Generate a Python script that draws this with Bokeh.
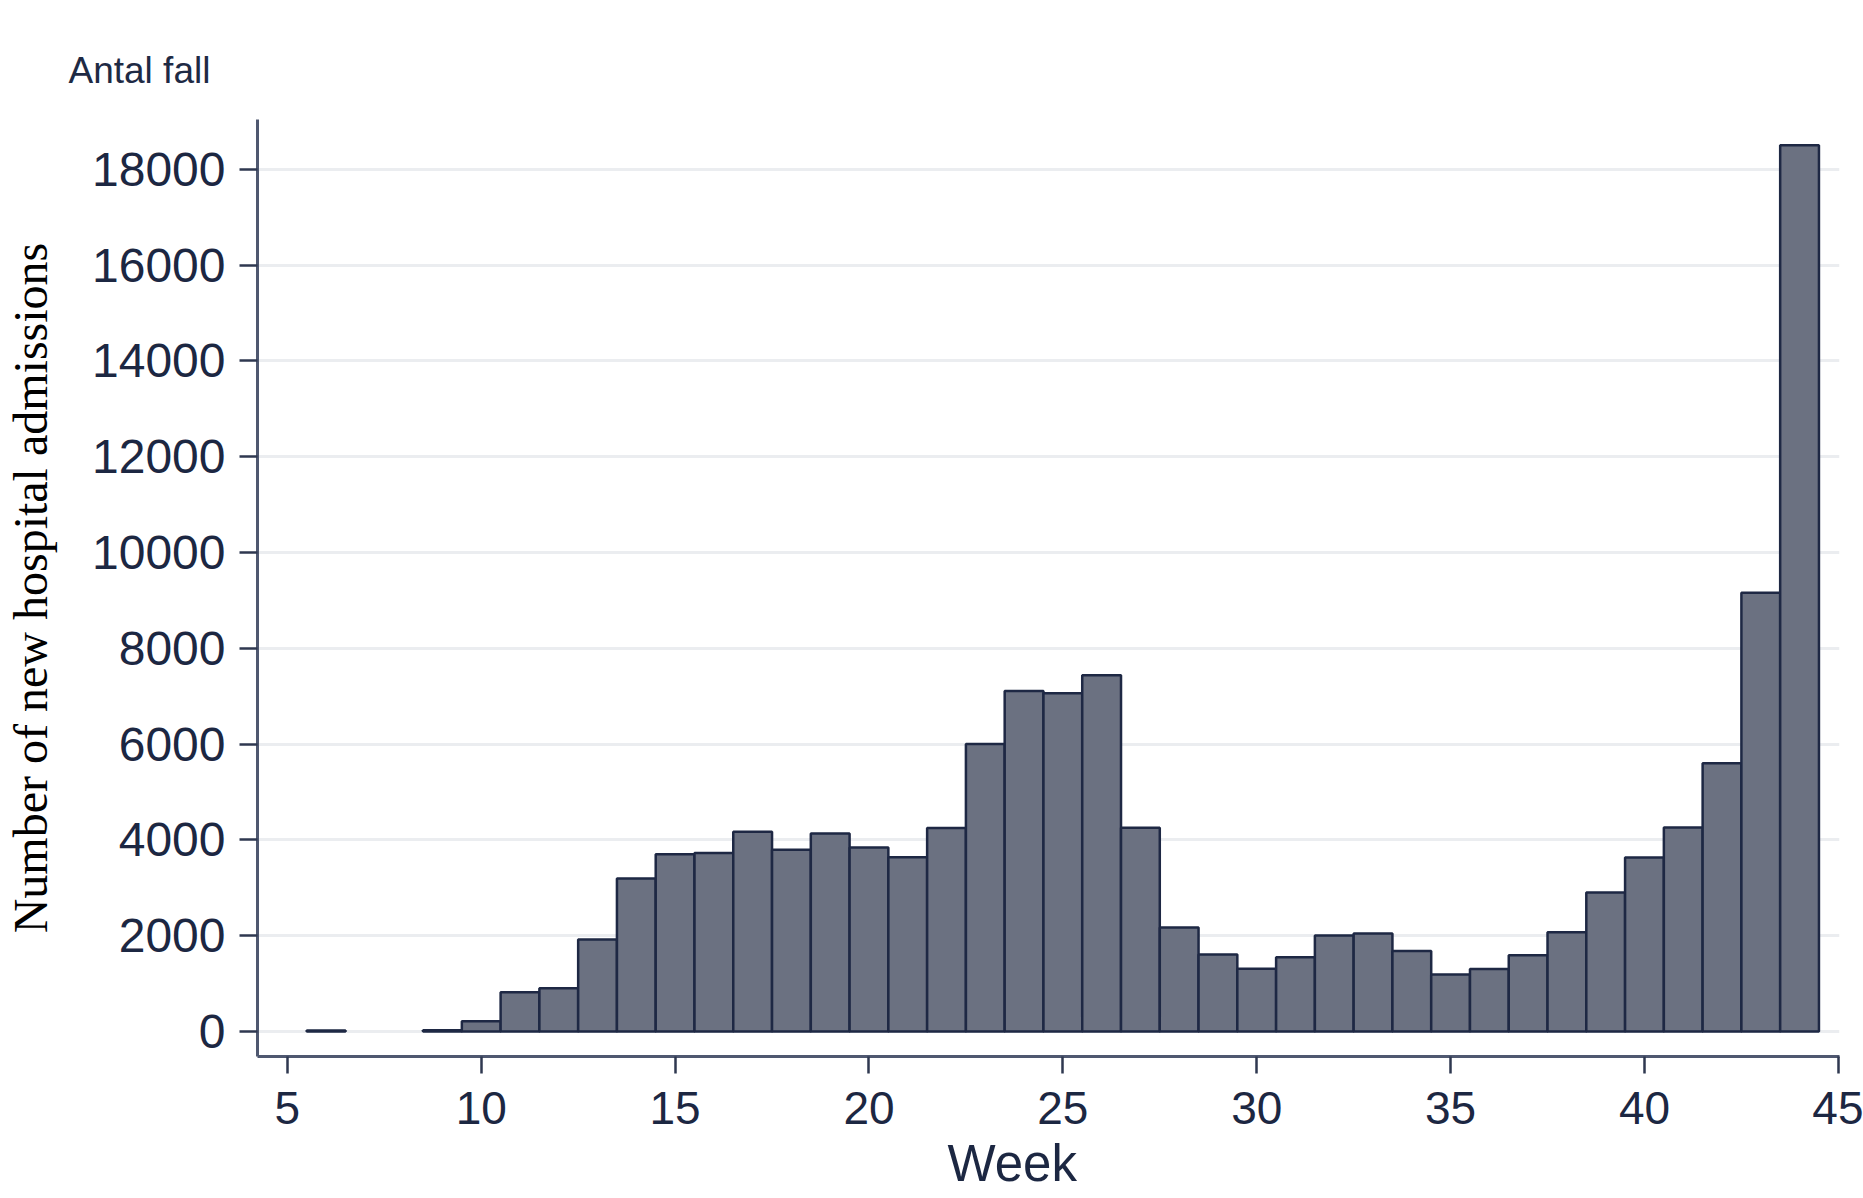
from bokeh.plotting import figure
from bokeh.models import FixedTicker, Range1d, NumeralTickFormatter, Title
from bokeh.embed import file_html
from bokeh.resources import INLINE

# ---- data ----
weeks = [6, 9, 10, 11, 12, 13, 14, 15, 16, 17, 18, 19, 20, 21, 22, 23, 24, 25,
         26, 27, 28, 29, 30, 31, 32, 33, 34, 35, 36, 37, 38, 39, 40, 41, 42, 43, 44]
admissions = [20, 25, 215, 820, 905, 1920, 3195, 3700, 3725, 4170, 3795, 4135,
              3840, 3640, 4250, 6000, 7110, 7060, 7435, 4255, 2170, 1610, 1310,
              1550, 2005, 2045, 1680, 1190, 1305, 1590, 2070, 2900, 3635, 4260,
              5600, 9160, 18500]
x_ticks = [5, 10, 15, 20, 25, 30, 35, 40, 45]
y_ticks = [0, 2000, 4000, 6000, 8000, 10000, 12000, 14000, 16000, 18000]
y_title = "Number of new hospital admissions"
x_title = "Week"
corner_note = "Antal fall"

TEXT = "#1c2742"
AXIS = "#4f5870"

p = figure(width=1863, height=1198,
           x_range=Range1d(4.23, 45.03), y_range=Range1d(-522, 19040),
           output_backend="svg", toolbar_location=None,
           min_border_left=257, min_border_right=24,
           min_border_top=119, min_border_bottom=142)
p.outline_line_color = None
p.background_fill_color = "white"
p.border_fill_color = "white"

# note above the y axis, as a left-aligned title pulled left of the frame
p.title.text = corner_note
p.title.align = "left"
p.title.offset = -189
p.title.standoff = 57
p.title.text_font = "Liberation Sans"
p.title.text_font_size = "37px"
p.title.text_font_style = "normal"
p.title.text_color = "#1e2a44"

p.xgrid.visible = False
p.ygrid.grid_line_color = "#ebedf0"
p.ygrid.grid_line_width = 3

p.vbar(x=weeks, top=admissions, bottom=0, width=1.0,
       fill_color="#6b7181", line_color="#1e2844", line_width=2.5)

for ax in (p.xaxis[0], p.yaxis[0]):
    ax.axis_line_color = AXIS
    ax.axis_line_width = 3
    ax.major_tick_line_color = "#2f3850"
    ax.major_tick_line_width = 2.5
    ax.major_tick_in = 0
    ax.minor_tick_line_color = None
    ax.major_label_text_font = "Liberation Sans"
    ax.major_label_text_color = TEXT

p.xaxis[0].ticker = FixedTicker(ticks=x_ticks)
p.xaxis[0].major_tick_out = 17
p.xaxis[0].major_label_standoff = 18
p.xaxis[0].major_label_text_font_size = "46px"

# x title below the axis (sits a little left of the frame centre in the reference)
p.add_layout(Title(text=x_title, align="left", offset=690, standoff=13,
                   text_font="Liberation Sans", text_font_size="51px",
                   text_font_style="normal", text_color=TEXT), "below")

p.yaxis[0].ticker = FixedTicker(ticks=y_ticks)
p.yaxis[0].formatter = NumeralTickFormatter(format="0")
p.yaxis[0].major_tick_out = 18
p.yaxis[0].major_label_standoff = 14
p.yaxis[0].major_label_text_font_size = "48px"
p.yaxis[0].axis_label = y_title
p.yaxis[0].axis_label_text_font = "Liberation Serif"
p.yaxis[0].axis_label_text_font_size = "48px"
p.yaxis[0].axis_label_text_font_style = "normal"
p.yaxis[0].axis_label_text_color = "black"
p.yaxis[0].axis_label_standoff = 32

open("out.html", "w").write(file_html(p, INLINE))
